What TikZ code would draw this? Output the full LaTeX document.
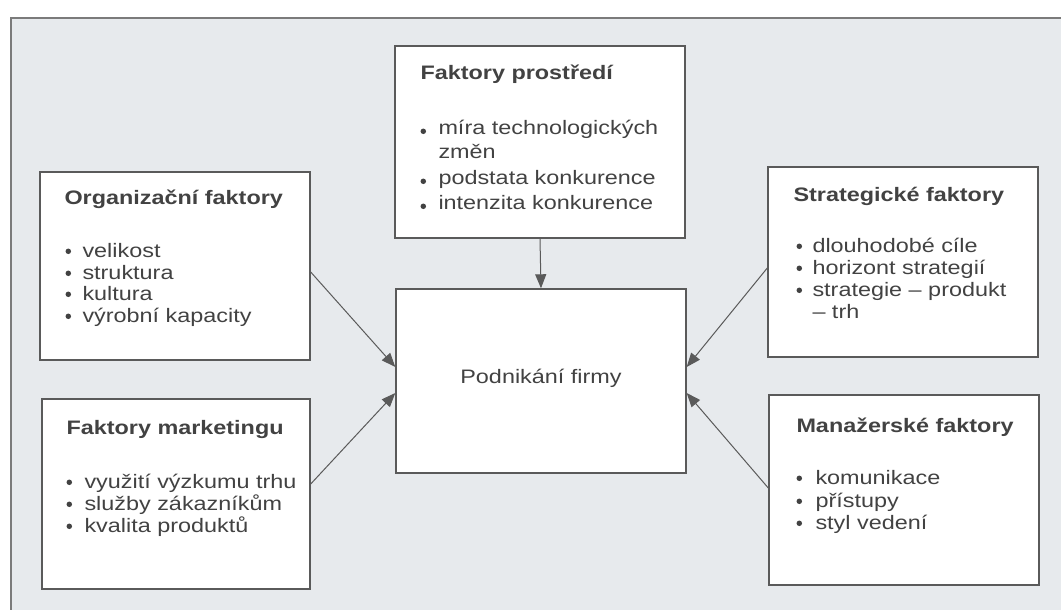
\documentclass[tikz,border=0pt]{standalone}
\usepackage{fontspec}
\setmainfont[FakeStretch=1.2]{Liberation Sans}
\usetikzlibrary{arrows.meta}

\definecolor{paper}{RGB}{231,234,237}
\definecolor{ink}{RGB}{66,66,66}
\definecolor{rule}{RGB}{90,90,90}

\tikzset{
	factorbox/.style={draw=rule, line width=1.4pt, fill=white, inner sep=0pt,
		minimum width=270pt, minimum height=190pt},
	boxtitle/.style={anchor=base west, inner sep=0pt, text=ink,
		font=\fontsize{19.5}{22}\selectfont\bfseries},
	boxitem/.style={anchor=base west, inner sep=0pt, text=ink,
		font=\fontsize{19.5}{22}\selectfont},
	bulletdot/.style={circle, fill=ink, inner sep=0pt, minimum size=5.5pt},
	influence/.style={draw=rule, line width=1pt, -{Triangle[length=14pt,width=11pt]}}
}

\begin{document}
\begin{tikzpicture}[x=1pt,y=-1pt]
			\useasboundingbox (0,0) rectangle (1061,610);
			
			% Draw the page with its frame
			\fill[white] (0,0) rectangle (1061,610);
			\fill[paper] (11,18) rectangle (1061,610);
			\draw[rule!80, line width=1.5pt] (11,615) -- (11,18) -- (1065,18);
			
			% Draw the boxes
			\node[factorbox, minimum width=290pt, minimum height=192pt] (env) at (540,142) {};
			\node[factorbox, minimum width=290pt, minimum height=184pt] (firm) at (541,381) {};
			\node[factorbox, minimum height=188pt] (org) at (175,266) {};
			\node[factorbox] (strat) at (903,262) {};
			\node[factorbox, minimum width=268pt] (mkt) at (176,494) {};
			\node[factorbox] (man) at (904,490) {};
			
			% Faktory prostredi
			\node[boxtitle] (envtitle) at ([shift={(26,34)}]env.north west) {Faktory prostředí};
			\foreach \dy/\bl/\txt [count=\i] in {89/1/míra technologických, 113/0/změn, 139/1/podstata konkurence, 164/1/intenzita konkurence} {
				\ifnum\bl=1 \node[bulletdot] (envb\i) at ([shift={(29,\dy-3)}]env.north west) {}; \fi
				\node[boxitem] (envi\i) at ([shift={(44,\dy)}]env.north west) {\txt};
			}
			
			% Organizacni faktory
			\node[boxtitle] (orgtitle) at ([shift={(25,33)}]org.north west) {Organizační faktory};
			\foreach \dy/\txt [count=\i] in {86/velikost, 108/struktura, 129/kultura, 151/výrobní kapacity} {
				\node[bulletdot] (orgb\i) at ([shift={(29,\dy-6)}]org.north west) {};
				\node[boxitem] (orgi\i) at ([shift={(43,\dy)}]org.north west) {\txt};
			}
			
			% Strategicke faktory
			\node[boxtitle] (strattitle) at ([shift={(26,35)}]strat.north west) {Strategické faktory};
			\foreach \dy/\bl/\txt [count=\i] in {86/1/dlouhodobé cíle, 108/1/horizont strategií, 130/1/strategie – produkt, 152/0/– trh} {
				\ifnum\bl=1 \node[bulletdot] (stratb\i) at ([shift={(32,\dy-6)}]strat.north west) {}; \fi
				\node[boxitem] (strati\i) at ([shift={(45,\dy)}]strat.north west) {\txt};
			}
			
			% Faktory marketingu
			\node[boxtitle] (mkttitle) at ([shift={(25,36)}]mkt.north west) {Faktory marketingu};
			\foreach \dy/\txt [count=\i] in {90/využití výzkumu trhu, 112/služby zákazníkům, 134/kvalita produktů} {
				\node[bulletdot] (mktb\i) at ([shift={(28,\dy-6)}]mkt.north west) {};
				\node[boxitem] (mkti\i) at ([shift={(43,\dy)}]mkt.north west) {\txt};
			}
			
			% Manazerske faktory
			\node[boxtitle] (mantitle) at ([shift={(28,38)}]man.north west) {Manažerské faktory};
			\foreach \dy/\txt [count=\i] in {90/komunikace, 113/přístupy, 135/styl vedení} {
				\node[bulletdot] (manb\i) at ([shift={(31,\dy-6)}]man.north west) {};
				\node[boxitem] (mani\i) at ([shift={(47,\dy)}]man.north west) {\txt};
			}
			
			% Podnikani firmy
			\node[boxitem, anchor=center] (firmtext) at ([yshift=3pt]firm.center) {Podnikání firmy};
			
			% Draw the arrows into the firm
			\draw[influence] (env.south) -- (firm.north);
			\draw[influence] ([yshift=-6pt]org.east) -- ([yshift=14pt]firm.west);
			\draw[influence] ([yshift=10pt]mkt.east) -- ([yshift=-12pt]firm.west);
			\draw[influence] ([yshift=-6pt]strat.west) -- ([yshift=14pt]firm.east);
			\draw[influence] ([yshift=2pt]man.west) -- ([yshift=-12pt]firm.east);
		\end{tikzpicture}
\end{document}
